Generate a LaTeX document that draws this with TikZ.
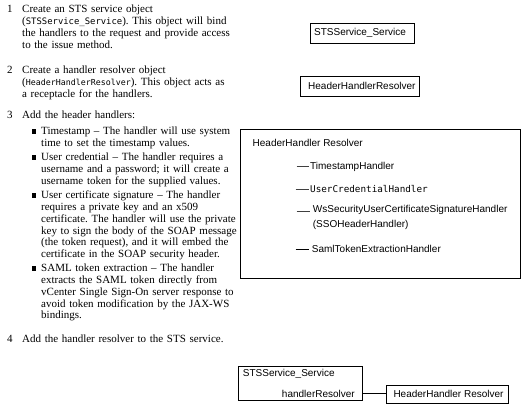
\documentclass[tikz,border=0pt]{standalone}
\usepackage{fontspec}
\setmainfont{Liberation Serif}
\setsansfont{Liberation Sans}
\setmonofont{DejaVu Sans Mono}
\newcommand{\codetxt}[2][8.9]{{\fontsize{#1}{11.7}\ttfamily #2}}
\frenchspacing
\begin{document}
\begin{tikzpicture}[x=1pt,y=-1pt,
  para/.style={anchor=base west, align=left, text width=260pt, inner sep=0pt, font=\fontsize{11}{11.7}\selectfont},
  num/.style={anchor=base west, inner sep=0pt, font=\fontsize{11}{11.7}\selectfont},
  bulletsq/.style={fill=black, minimum size=4.4pt, inner sep=0pt},
  box/.style={draw, line width=0.7pt, inner sep=0pt},
  sanslabel/.style={anchor=west, inner sep=0pt, font=\sffamily\fontsize{10}{11}\selectfont},
  handlerline/.style={line width=0.7pt, draw=black!75}
]
\useasboundingbox (0,0) rectangle (528,414);

% ---- Step 1
\node[num] (n1) at (7,13) {1};
\node[para] (t1) at (22,13) {Create an STS service object\\
(\codetxt{STSService\_Service}). This object will bind\\
the handlers to the request and provide access\\
to the issue method.};

% ---- Step 2
\node[num] (n2) at (7,74) {2};
\node[para] (t2) at (22,74) {Create a handler resolver object\\
(\codetxt[8.3]{HeaderHandlerResolver}). This object acts as\\
a receptacle for the handlers.};

% ---- Step 3
\node[num] (n3) at (7,119) {3};
\node[para] (t3) at (22,119) {Add the header handlers:};

\node[bulletsq] (b1) at (33.8,131.5) {};
\node[para] (tb1) at (41,135) {Timestamp -- The handler will use system\\
time to set the timestamp values.};
\node[bulletsq] (b2) at (33.8,157.5) {};
\node[para] (tb2) at (41,161) {User credential -- The handler requires a\\
username and a password; it will create a\\
username token for the supplied values.};
\node[bulletsq] (b3) at (33.8,195.5) {};
\node[para] (tb3) at (41,199) {User certificate signature -- The handler\\
requires a private key and an x509\\
certificate. The handler will use the private\\
key to sign the body of the SOAP message\\
(the token request), and it will embed the\\
certificate in the SOAP security header.};
\node[bulletsq] (b4) at (33.8,268.5) {};
\node[para] (tb4) at (41,272) {SAML token extraction -- The handler\\
extracts the SAML token directly from\\
vCenter Single Sign-On server response to\\
avoid token modification by the JAX-WS\\
bindings.};

% ---- Step 4
\node[num] (n4) at (7,343) {4};
\node[para] (t4) at (22,343) {Add the handler resolver to the STS service.};

% ---- Right diagrams
\node[box, minimum width=104pt, minimum height=20pt] (sts1) at (362,33) {};
\node[sanslabel] (sts1t) at (314,33) {STSService\_Service};

\node[box, minimum width=119pt, minimum height=20pt] (hhr) at (359.5,86) {};
\node[sanslabel] (hhrt) at (308,86) {HeaderHandlerResolver};

\node[box, minimum width=280pt, minimum height=149pt] (big) at (380,203.5) {};
\node[sanslabel] (bigt) at (252.5,142.7) {HeaderHandler Resolver};

\coordinate (l1a) at (296.7,166.7); \coordinate (l1b) at (309.3,166.7);
\draw[handlerline] (l1a) -- (l1b);
\node[sanslabel] (h1) at (310,166.7) {TimestampHandler};

\coordinate (l2a) at (295.7,189); \coordinate (l2b) at (309.3,189);
\draw[handlerline] (l2a) -- (l2b);
\node[anchor=west, inner sep=0pt, font=\ttfamily\fontsize{9.3}{10.5}\selectfont] (h2) at (310,189) {UserCredentialHandler};

\coordinate (l3a) at (296.7,211.3); \coordinate (l3b) at (310,211.3);
\draw[handlerline] (l3a) -- (l3b);
\node[sanslabel, anchor=north west, align=left, font=\sffamily\fontsize{10}{14.7}\selectfont] (h3) at (312.7,205.3) {WsSecurityUserCertificateSignatureHandler\\(SSOHeaderHandler)};

\coordinate (l4a) at (295.7,249.3); \coordinate (l4b) at (309.3,249.3);
\draw[line width=0.7pt] (l4a) -- (l4b);
\node[sanslabel] (h4) at (311.7,249.3) {SamlTokenExtractionHandler};

% ---- Step 4 diagram
\node[box, minimum width=124.4pt, minimum height=34pt] (sts2) at (300.5,383.7) {};
\node[sanslabel] (sts2t) at (242.7,374) {STSService\_Service};
\node[sanslabel, anchor=east] (hr) at (355,393.7) {handlerResolver};
\node[box, minimum width=121.6pt, minimum height=18.3pt] (hhr2) at (447.5,394.2) {};
\node[sanslabel] (hhr2t) at (393.3,394.2) {HeaderHandler Resolver};
\draw[line width=0.7pt] (sts2.east |- hr) -- (hhr2.west |- hr);
\end{tikzpicture}
\end{document}
